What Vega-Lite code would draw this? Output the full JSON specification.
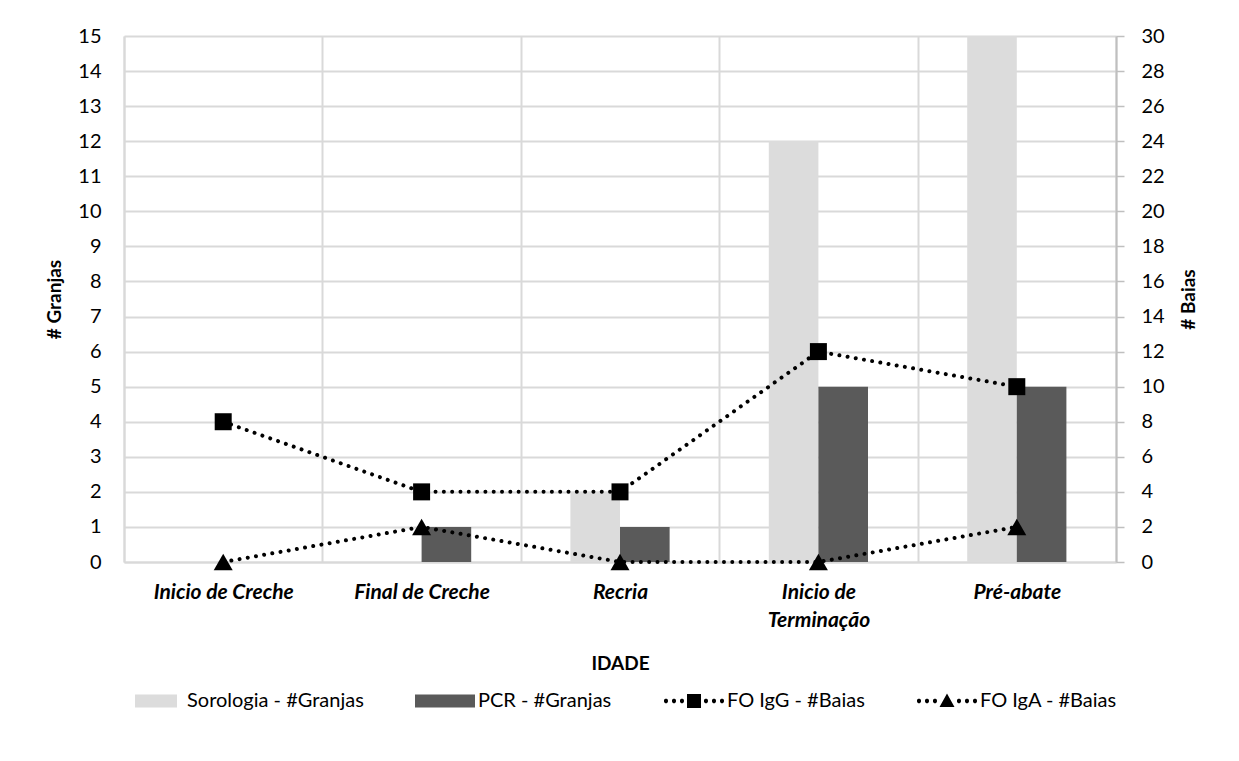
{
  "$schema": "https://vega.github.io/schema/vega-lite/v6.json",
  "width": 992,
  "height": 526,
  "autosize": {"type": "none"},
  "padding": {"left": 124, "top": 36, "right": 123, "bottom": 199},
  "background": "white",
  "config": {
    "font": "Lato",
    "view": {"stroke": null},
    "axis": {
      "labelFont": "Lato",
      "titleFont": "Lato",
      "labelColor": "#000000",
      "titleColor": "#000000",
      "labelFontSize": 20,
      "titleFontSize": 19,
      "titleFontWeight": "bold",
      "domainColor": "#d9d9d9",
      "domainWidth": 2,
      "gridColor": "#d9d9d9",
      "gridWidth": 2,
      "tickColor": "#bfbfbf",
      "tickWidth": 1.5
    },
    "legend": {
      "orient": "bottom",
      "direction": "horizontal",
      "labelFont": "Lato",
      "labelFontSize": 20,
      "labelColor": "#000000",
      "labelLimit": 400,
      "symbolSize": 3600,
      "symbolStrokeWidth": 0,
      "symbolOpacity": 1,
      "labelOffset": 3,
      "columnPadding": 51,
      "offset": -2
    }
  },
  "datasets": {
    "bars": [
      {"stage": "Inicio de Creche", "series": "Sorologia - #Granjas", "granjas": 0},
      {"stage": "Inicio de Creche", "series": "PCR - #Granjas", "granjas": 0},
      {"stage": "Final de Creche", "series": "Sorologia - #Granjas", "granjas": 0},
      {"stage": "Final de Creche", "series": "PCR - #Granjas", "granjas": 1},
      {"stage": "Recria", "series": "Sorologia - #Granjas", "granjas": 2},
      {"stage": "Recria", "series": "PCR - #Granjas", "granjas": 1},
      {"stage": "Inicio de Terminação", "series": "Sorologia - #Granjas", "granjas": 12},
      {"stage": "Inicio de Terminação", "series": "PCR - #Granjas", "granjas": 5},
      {"stage": "Pré-abate", "series": "Sorologia - #Granjas", "granjas": 15},
      {"stage": "Pré-abate", "series": "PCR - #Granjas", "granjas": 5}
    ],
    "lines": [
      {"stage": "Inicio de Creche", "series": "FO IgG - #Baias", "baias": 8},
      {"stage": "Final de Creche", "series": "FO IgG - #Baias", "baias": 4},
      {"stage": "Recria", "series": "FO IgG - #Baias", "baias": 4},
      {"stage": "Inicio de Terminação", "series": "FO IgG - #Baias", "baias": 12},
      {"stage": "Pré-abate", "series": "FO IgG - #Baias", "baias": 10},
      {"stage": "Inicio de Creche", "series": "FO IgA - #Baias", "baias": 0},
      {"stage": "Final de Creche", "series": "FO IgA - #Baias", "baias": 2},
      {"stage": "Recria", "series": "FO IgA - #Baias", "baias": 0},
      {"stage": "Inicio de Terminação", "series": "FO IgA - #Baias", "baias": 0},
      {"stage": "Pré-abate", "series": "FO IgA - #Baias", "baias": 2}
    ],
    "legendrows": [
      {"stage": "Recria", "series": "Sorologia - #Granjas"},
      {"stage": "Recria", "series": "PCR - #Granjas"},
      {"stage": "Recria", "series": "FO IgG - #Baias"},
      {"stage": "Recria", "series": "FO IgA - #Baias"}
    ]
  },
  "encoding": {
    "x": {
      "field": "stage",
      "type": "nominal",
      "scale": {
        "domain": ["Inicio de Creche", "Final de Creche", "Recria", "Inicio de Terminação", "Pré-abate"],
        "paddingInner": 0,
        "paddingOuter": 0
      },
      "axis": {
        "title": "IDADE",
        "titleFontSize": 19,
        "titlePadding": 24,
        "labelAngle": 0,
        "labelFontSize": 21,
        "labelFontWeight": "bold",
        "labelFontStyle": "italic",
        "labelPadding": 19,
        "labelLineHeight": 28,
        "labelExpr": "datum.label == 'Inicio de Terminação' ? ['Inicio de', 'Terminação'] : datum.label",
        "ticks": false,
        "grid": true,
        "tickBand": "extent",
        "domain": true
      }
    }
  },
  "layer": [
    {
      "data": {"name": "bars"},
      "mark": {"type": "bar"},
      "encoding": {
        "xOffset": {
          "field": "series",
          "type": "nominal",
          "scale": {"domain": ["Sorologia - #Granjas", "PCR - #Granjas"], "paddingInner": 0, "paddingOuter": 1.56}
        },
        "y": {
          "field": "granjas",
          "type": "quantitative",
          "scale": {"domain": [0, 15], "nice": false},
          "axis": {
            "title": "# Granjas",
            "orient": "left",
            "values": [0,1,2,3,4,5,6,7,8,9,10,11,12,13,14,15],
            "grid": true,
            "ticks": false,
            "labelPadding": 23,
            "titlePadding": 13
          }
        },
        "color": {
          "field": "series",
          "type": "nominal",
          "scale": {
            "domain": ["Sorologia - #Granjas", "PCR - #Granjas", "FO IgG - #Baias", "FO IgA - #Baias"],
            "range": ["#dcdcdc", "#5a5a5a", "#000000", "#000000"]
          },
          "legend": {"title": null}
        }
      }
    },
    {
      "data": {"name": "legendrows"},
      "transform": [{"filter": "datum.series == 'none'"}],
      "mark": {"type": "point", "filled": true, "opacity": 1},
      "encoding": {
        "color": {"field": "series", "type": "nominal", "legend": {"title": null}},
        "shape": {
          "field": "series",
          "type": "nominal",
          "scale": {
            "domain": ["Sorologia - #Granjas", "PCR - #Granjas", "FO IgG - #Baias", "FO IgA - #Baias"],
            "range": [
              "M-0.633,-0.217H0.767V0.217H-0.633Z",
              "M-1,-0.217H1V0.217H-1Z",
              "M-1,0a0.067,0.067 0 1,0 0.133,0a0.067,0.067 0 1,0 -0.133,0M-0.733,0a0.067,0.067 0 1,0 0.133,0a0.067,0.067 0 1,0 -0.133,0M-0.467,0a0.067,0.067 0 1,0 0.133,0a0.067,0.067 0 1,0 -0.133,0M0.333,0a0.067,0.067 0 1,0 0.133,0a0.067,0.067 0 1,0 -0.133,0M0.6,0a0.067,0.067 0 1,0 0.133,0a0.067,0.067 0 1,0 -0.133,0M0.867,0a0.067,0.067 0 1,0 0.133,0a0.067,0.067 0 1,0 -0.133,0M-0.233,-0.233H0.233V0.233H-0.233Z",
              "M-1,0a0.067,0.067 0 1,0 0.133,0a0.067,0.067 0 1,0 -0.133,0M-0.733,0a0.067,0.067 0 1,0 0.133,0a0.067,0.067 0 1,0 -0.133,0M-0.467,0a0.067,0.067 0 1,0 0.133,0a0.067,0.067 0 1,0 -0.133,0M0.333,0a0.067,0.067 0 1,0 0.133,0a0.067,0.067 0 1,0 -0.133,0M0.6,0a0.067,0.067 0 1,0 0.133,0a0.067,0.067 0 1,0 -0.133,0M0.867,0a0.067,0.067 0 1,0 0.133,0a0.067,0.067 0 1,0 -0.133,0M0,-0.25L0.25,0.2L-0.25,0.2Z"
            ]
          },
          "legend": {"title": null}
        }
      }
    },
    {
      "data": {"name": "lines"},
      "encoding": {
        "y": {
          "field": "baias",
          "type": "quantitative",
          "scale": {"domain": [0, 30], "nice": false},
          "axis": {
            "title": "# Baias",
            "orient": "right",
            "values": [0,2,4,6,8,10,12,14,16,18,20,22,24,26,28,30],
            "grid": false,
            "ticks": true,
            "tickSize": 8,
            "labelPadding": 17,
            "titlePadding": 15,
            "titleAngle": -90,
            "titleBaseline": "top",
            "domainColor": "#bfbfbf"
          }
        }
      },
      "layer": [
        {
          "mark": {"type": "line", "color": "#000000", "strokeWidth": 4, "strokeDash": [0.01, 8.3], "strokeCap": "round"},
          "encoding": {"detail": {"field": "series", "type": "nominal"}}
        },
        {
          "transform": [{"filter": "datum.series == 'FO IgG - #Baias'"}],
          "mark": {"type": "point", "shape": "square", "filled": true, "color": "#000000", "size": 289, "opacity": 1}
        },
        {
          "transform": [{"filter": "datum.series == 'FO IgA - #Baias'"}],
          "mark": {"type": "point", "shape": "triangle-up", "filled": true, "color": "#000000", "size": 361, "opacity": 1}
        }
      ]
    }
  ],
  "resolve": {"scale": {"y": "independent"}}
}
